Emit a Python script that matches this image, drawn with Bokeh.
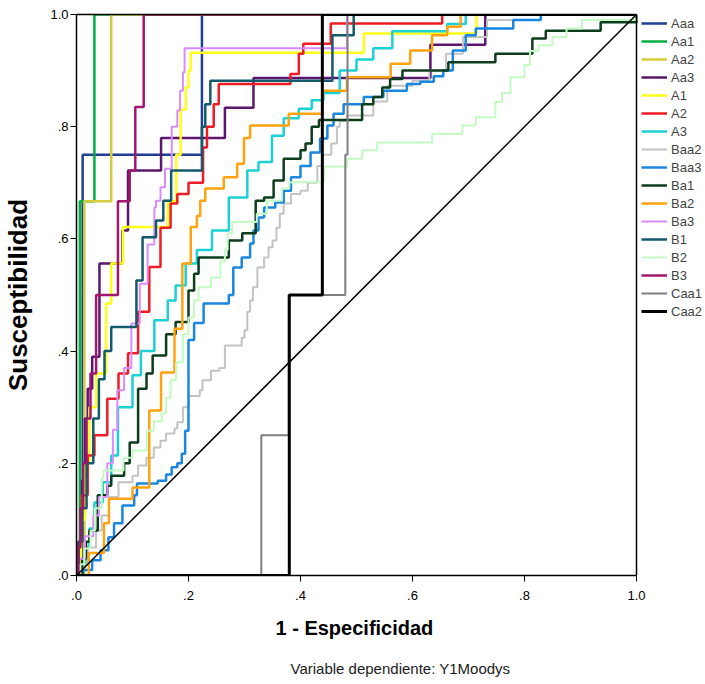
from bokeh.plotting import figure
from bokeh.models import (Range1d, FixedTicker, Legend, LegendItem, Title, LinearAxis, Span)
from bokeh.embed import file_html
from bokeh.resources import INLINE

# ---- data (1 - specificity, sensitivity) : tops of each riser ----
labels = ["Aaa", "Aa1", "Aa2", "Aa3", "A1", "A2", "A3", "Baa2", "Baa3",
          "Ba1", "Ba2", "Ba3", "B1", "B2", "B3", "Caa1", "Caa2"]

fpr_Aaa = [0, 0.011, 0.224, 1]
tpr_Aaa = [0, 0.75, 1.0, 1]

fpr_Aa1 = [0, 0.006, 0.032, 1]
tpr_Aa1 = [0, 0.667, 1.0, 1]

fpr_Aa2 = [0, 0.014, 0.062, 1]
tpr_Aa2 = [0, 0.667, 1.0, 1]

fpr_Aa3 = [0, 0.004, 0.01, 0.015, 0.02, 0.028, 0.041, 0.082, 0.092, 0.151, 0.265, 0.316, 0.632, 0.73, 1]
tpr_Aa3 = [0, 0.06, 0.17, 0.28, 0.333, 0.39, 0.556, 0.615, 0.722, 0.78, 0.834, 0.887, 0.946, 1.0, 1]

fpr_A1 = [0, 0.008, 0.015, 0.023, 0.035, 0.053, 0.062, 0.083, 0.163, 0.178, 0.186, 0.195, 0.2, 0.204, 0.513, 0.714, 1]
tpr_A1 = [0, 0.1, 0.2, 0.3, 0.36, 0.485, 0.556, 0.621, 0.667, 0.75, 0.83, 0.87, 0.9, 0.932, 0.966, 1.0, 1]

fpr_A2 = [0, 0.003, 0.01, 0.02, 0.032, 0.055, 0.075, 0.092, 0.11, 0.13, 0.15, 0.168, 0.18, 0.2, 0.226,
          0.233, 0.245, 0.254, 0.382, 0.397, 0.405, 0.454, 0.653, 1]
tpr_A2 = [0, 0.06, 0.143, 0.214, 0.25, 0.315, 0.36, 0.396, 0.47, 0.55, 0.62, 0.663, 0.68, 0.7, 0.763,
          0.8, 0.84, 0.876, 0.894, 0.93, 0.948, 0.984, 1.0, 1]

fpr_A3 = [0, 0.01, 0.017, 0.023, 0.032, 0.047, 0.062, 0.074, 0.1, 0.115, 0.139, 0.163, 0.177, 0.195,
          0.215, 0.242, 0.272, 0.305, 0.325, 0.349, 0.37, 0.397, 0.42, 0.441, 0.47, 0.5, 0.53, 0.564,
          0.662, 0.695, 1]
tpr_A3 = [0, 0.02, 0.05, 0.084, 0.13, 0.166, 0.214, 0.3, 0.357, 0.4, 0.455, 0.49, 0.517, 0.556,
          0.58, 0.615, 0.674, 0.722, 0.737, 0.784, 0.815, 0.832, 0.847, 0.86, 0.9, 0.92, 0.94, 0.97,
          0.983, 1.0, 1]

fpr_Baa2 = [0, 0.01, 0.02, 0.035, 0.045, 0.058, 0.075, 0.1, 0.11, 0.125, 0.138, 0.15, 0.16, 0.175,
            0.18, 0.19, 0.2, 0.22, 0.225, 0.24, 0.255, 0.265, 0.295, 0.3, 0.305, 0.31, 0.315, 0.323,
            0.335, 0.343, 0.35, 0.357, 0.363, 0.37, 0.383, 0.4, 0.413, 0.43, 0.44, 0.455, 0.465, 0.47,
            0.483, 0.53, 0.555, 0.6, 0.63, 0.66, 0.69, 0.733, 0.83, 1]
tpr_Baa2 = [0, 0.02, 0.05, 0.08, 0.107, 0.14, 0.166, 0.178, 0.196, 0.21, 0.228, 0.24, 0.253, 0.262,
            0.273, 0.3, 0.32, 0.33, 0.348, 0.365, 0.37, 0.41, 0.424, 0.437, 0.47, 0.49, 0.514, 0.549,
            0.567, 0.585, 0.597, 0.62, 0.645, 0.663, 0.68, 0.686, 0.7, 0.73, 0.75, 0.77, 0.8, 0.81,
            0.82, 0.845, 0.873, 0.882, 0.9, 0.93, 0.96, 0.99, 1.0, 1]

fpr_Baa3 = [0, 0.012, 0.028, 0.043, 0.057, 0.067, 0.082, 0.103, 0.108, 0.145, 0.16, 0.17, 0.18, 0.188,
            0.194, 0.2, 0.21, 0.227, 0.272, 0.28, 0.295, 0.31, 0.316, 0.325, 0.335, 0.355, 0.37, 0.383,
            0.4, 0.418, 0.435, 0.448, 0.459, 0.477, 0.513, 0.548, 0.59, 0.614, 0.638, 0.655, 0.672,
            0.695, 0.713, 0.78, 0.829, 1]
tpr_Baa3 = [0, 0.01, 0.027, 0.045, 0.068, 0.093, 0.125, 0.143, 0.164, 0.169, 0.18, 0.193, 0.2, 0.217,
            0.258, 0.42, 0.45, 0.485, 0.5, 0.549, 0.567, 0.592, 0.615, 0.638, 0.656, 0.665, 0.686, 0.71,
            0.73, 0.754, 0.779, 0.802, 0.823, 0.84, 0.853, 0.864, 0.876, 0.88, 0.89, 0.9, 0.936,
            0.963, 0.975, 0.99, 1.0, 1]

fpr_Ba1 = [0, 0.01, 0.017, 0.023, 0.038, 0.055, 0.062, 0.085, 0.095, 0.11, 0.125, 0.136, 0.16, 0.177,
           0.2, 0.21, 0.218, 0.272, 0.296, 0.32, 0.335, 0.352, 0.37, 0.4, 0.409, 0.42, 0.433, 0.51,
           0.53, 0.546, 0.56, 0.582, 0.664, 0.748, 0.814, 0.838, 0.936, 1]
tpr_Ba1 = [0, 0.03, 0.06, 0.08, 0.143, 0.16, 0.178, 0.2, 0.237, 0.333, 0.36, 0.392, 0.43, 0.452,
           0.508, 0.538, 0.567, 0.597, 0.61, 0.668, 0.674, 0.704, 0.743, 0.758, 0.77, 0.8, 0.812, 0.84,
           0.853, 0.87, 0.885, 0.9, 0.915, 0.93, 0.957, 0.971, 0.986, 1]

fpr_Ba2 = [0, 0.022, 0.049, 0.058, 0.1, 0.13, 0.151, 0.175, 0.189, 0.204, 0.215, 0.221, 0.23, 0.263,
           0.287, 0.299, 0.31, 0.379, 0.439, 0.483, 0.561, 0.596, 0.635, 0.662, 0.686, 1]
tpr_Ba2 = [0, 0.04, 0.093, 0.137, 0.157, 0.294, 0.362, 0.44, 0.556, 0.621, 0.641, 0.668, 0.69, 0.71,
           0.734, 0.78, 0.802, 0.823, 0.864, 0.888, 0.912, 0.936, 0.963, 0.978, 1.0, 1]

fpr_Ba3 = [0, 0.005, 0.015, 0.03, 0.04, 0.055, 0.065, 0.073, 0.085, 0.098, 0.113, 0.127, 0.139, 0.142,
           0.15, 0.158, 0.17, 0.18, 0.185, 0.19, 0.193, 0.483, 1]
tpr_Ba3 = [0, 0.03, 0.07, 0.107, 0.14, 0.2, 0.26, 0.33, 0.37, 0.449, 0.52, 0.59, 0.656, 0.668,
           0.692, 0.725, 0.8, 0.829, 0.864, 0.897, 0.94, 1.0, 1]

fpr_B1 = [0, 0.004, 0.01, 0.018, 0.03, 0.04, 0.05, 0.062, 0.107, 0.118, 0.142, 0.155, 0.169, 0.224,
          0.23, 0.239, 0.457, 0.495, 1]
tpr_B1 = [0, 0.06, 0.12, 0.2, 0.28, 0.35, 0.4, 0.443, 0.526, 0.603, 0.633, 0.668, 0.722, 0.8,
          0.84, 0.882, 0.963, 1.0, 1]

fpr_B2 = [0, 0.007, 0.014, 0.025, 0.033, 0.045, 0.048, 0.084, 0.1, 0.126, 0.138, 0.152, 0.16, 0.168,
          0.178, 0.19, 0.2, 0.21, 0.218, 0.24, 0.257, 0.265, 0.27, 0.278, 0.322, 0.34, 0.367, 0.38,
          0.442, 0.483, 0.51, 0.537, 0.635, 0.689, 0.713, 0.748, 0.76, 0.775, 0.8, 0.81, 0.825, 0.85,
          0.875, 0.903, 1]
tpr_B2 = [0, 0.02, 0.048, 0.08, 0.12, 0.173, 0.187, 0.21, 0.223, 0.258, 0.275, 0.289, 0.317, 0.348,
          0.38, 0.43, 0.46, 0.49, 0.514, 0.531, 0.56, 0.58, 0.61, 0.63, 0.645, 0.668, 0.69, 0.701,
          0.729, 0.743, 0.758, 0.772, 0.787, 0.802, 0.817, 0.844, 0.86, 0.888, 0.91, 0.935, 0.945, 0.96,
          0.975, 0.99, 1]

fpr_B3 = [0, 0.003, 0.007, 0.012, 0.018, 0.025, 0.035, 0.074, 0.095, 0.105, 0.12, 1]
tpr_B3 = [0, 0.05, 0.12, 0.2, 0.28, 0.36, 0.5, 0.667, 0.722, 0.835, 1.0, 1]

fpr_Caa1 = [0, 0.33, 0.379, 0.48, 0.484, 1]
tpr_Caa1 = [0, 0.25, 0.5, 0.75, 1.0, 1]

fpr_Caa2 = [0, 0.38, 0.439, 1]
tpr_Caa2 = [0, 0.5, 1.0, 1]

diag_x = [0, 1]
diag_y = [0, 1]

tick_vals = [0, 0.2, 0.4, 0.6, 0.8, 1.0]
tick_text = [".0", ".2", ".4", ".6", ".8", "1.0"]

x_title = "1 - Especificidad"
y_title = "Susceptibilidad"
footnote = "Variable dependiente: Y1Moodys"

series = [
    (fpr_Aaa, tpr_Aaa), (fpr_Aa1, tpr_Aa1), (fpr_Aa2, tpr_Aa2), (fpr_Aa3, tpr_Aa3),
    (fpr_A1, tpr_A1), (fpr_A2, tpr_A2), (fpr_A3, tpr_A3), (fpr_Baa2, tpr_Baa2),
    (fpr_Baa3, tpr_Baa3), (fpr_Ba1, tpr_Ba1), (fpr_Ba2, tpr_Ba2), (fpr_Ba3, tpr_Ba3),
    (fpr_B1, tpr_B1), (fpr_B2, tpr_B2), (fpr_B3, tpr_B3), (fpr_Caa1, tpr_Caa1),
    (fpr_Caa2, tpr_Caa2),
]

# ---- styles ----
colors = ["#1f3f93", "#00b140", "#d6cb3a", "#5b1670", "#ffff1a", "#ee1c24", "#1cd0d4",
          "#c3c3c3", "#1a86e0", "#0c3d1c", "#ffa310", "#d98cff", "#135a6c", "#c4fbc4",
          "#a3166e", "#7f7f7f", "#000000"]
widths = [2.5, 2.5, 2.5, 2.5, 2.5, 2.5, 2.5, 2, 2.5, 2.5, 2.5, 2, 2.5, 2, 2.5, 2, 3]

FONT = "Liberation Sans"
LEFT, TOP, BOTTOM = 76, 14, 109
W, H = 705, 684
PLOT_PX = 560.0          # pixels of one x unit (the box is 0..1)
x_end = (W - LEFT) / PLOT_PX   # frame runs to the window edge so the legend is not clipped

p = figure(width=W, height=H, x_range=Range1d(0, x_end), y_range=Range1d(0, 1),
           output_backend="svg", toolbar_location=None,
           min_border_left=LEFT, min_border_right=0, min_border_top=TOP, min_border_bottom=BOTTOM)
p.background_fill_color = "white"
p.border_fill_color = "white"
p.outline_line_color = None
p.xgrid.visible = False
p.ygrid.visible = False

overrides = {v: t for v, t in zip(tick_vals, tick_text)}
xax = p.below[0]
yax = p.left[0]
for ax in (xax, yax):
    ax.ticker = FixedTicker(ticks=tick_vals)
    ax.major_label_overrides = overrides
    ax.minor_tick_line_color = None
    ax.major_tick_in = 0
    ax.major_tick_out = 6
    ax.major_tick_line_color = "black"
    ax.axis_line_color = "black"
    ax.axis_line_width = 1.5
    ax.major_label_text_font = FONT
    ax.major_label_text_font_size = "13px"
    ax.major_label_text_color = "black"
    ax.axis_label_text_font = FONT
    ax.axis_label_text_font_style = "bold"
    ax.axis_label_text_color = "black"
xax.bounds = (0, 1)
xax.major_label_standoff = 9
yax.major_label_standoff = 2
yax.axis_label = y_title
yax.axis_label_text_font_size = "26px"
yax.axis_label_standoff = 14

# top border of the box
top_ax = LinearAxis(bounds=(0, 1), ticker=FixedTicker(ticks=[]), axis_line_color="black",
                    axis_line_width=1.5, major_tick_line_color=None, minor_tick_line_color=None,
                    major_label_text_font_size="0px")
p.add_layout(top_ax, "above")
# right border of the box
p.add_layout(Span(location=1, dimension="height", line_color="black", line_width=1.5))

items = []
for (xs, ys), lab, col, w in zip(series, labels, colors, widths):
    r = p.step(xs, ys, mode="after", line_color=col, line_width=w)
    items.append(LegendItem(label=lab, renderers=[r]))

p.line(diag_x, diag_y, line_color="black", line_width=1.5)

legend = Legend(items=items, location=(565, 255), orientation="vertical",
                glyph_width=26, glyph_height=18, label_height=18, spacing=0,
                padding=0, margin=0, label_standoff=4,
                label_text_font=FONT, label_text_font_size="13px",
                background_fill_alpha=0, border_line_alpha=0)
p.add_layout(legend, "center")

p.add_layout(Title(text=x_title, align="left", offset=199, standoff=24,
                   text_font=FONT, text_font_size="20px", text_font_style="bold",
                   text_color="black"), "below")
p.add_layout(Title(text=footnote, align="left", offset=214, standoff=14,
                   text_font=FONT, text_font_size="15px", text_font_style="normal",
                   text_color="#222222"), "below")

open("out.html", "w").write(file_html(p, INLINE))
